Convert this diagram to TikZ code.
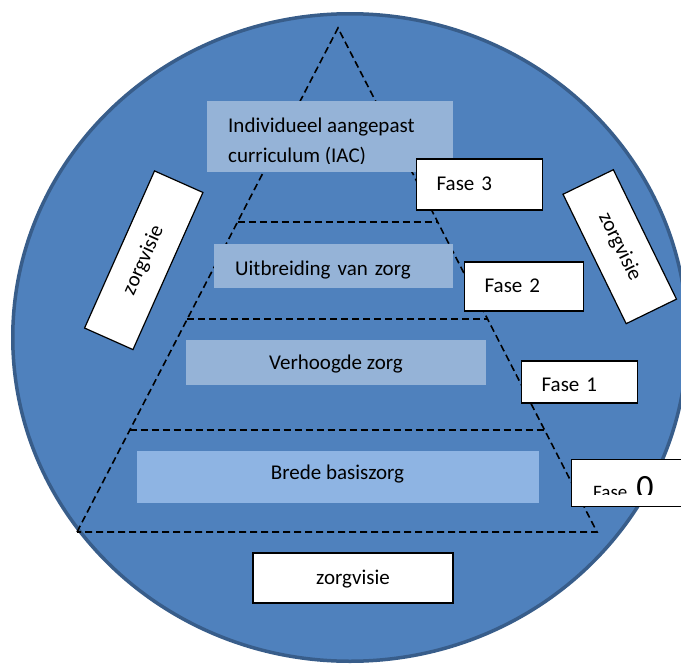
\documentclass[tikz,border=0pt]{standalone}
\usepackage{fontspec}
\setmainfont{Carlito}
\usetikzlibrary{calc}
\definecolor{discblue}{HTML}{4F81BD}
\definecolor{discline}{HTML}{385D8A}
\definecolor{layerblue}{HTML}{95B3D7}
\definecolor{baseblue}{HTML}{8EB4E3}

\begin{document}
\begin{tikzpicture}[
  x=1pt, y=-1pt,
  font=\fontsize{21}{25}\selectfont,
  layer/.style={rectangle, fill=layerblue, inner sep=0pt, align=left},
  fase/.style={rectangle, draw, fill=white, line width=1.2pt, inner sep=0pt, inner xsep=20pt, align=left, anchor=base west},
  visie/.style={rectangle, draw, fill=white, line width=1.2pt, inner sep=0pt, align=center},
  niveau/.style={line width=1.6pt, dash pattern=on 7pt off 4pt}
]
\useasboundingbox (0,0) rectangle (681,665);

\fill[discblue, draw=discline, line width=3.5pt] (350,337.5) ellipse [x radius=337.25, y radius=323.75];

\coordinate (top) at (338,28);
\coordinate (bl) at (77,532);
\coordinate (br) at (597,532);
\draw[niveau] (bl) -- (top) -- (br) -- cycle;
\foreach \f in {0.385,0.577,0.798}
  \draw[niveau] ($(top)!\f!(bl)$) -- ($(top)!\f!(br)$);

\node[layer, anchor=north west, minimum width=246, minimum height=71] (iac) at (207,101) {};
\begin{scope}
  \clip (207,101) rectangle (453,163);
  \node[anchor=north west, inner sep=0pt, align=left, font=\fontsize{21}{30}\selectfont] (iactekst) at (228,118) {Individueel aangepast\\curriculum (IAC)};
\end{scope}
\node[layer, anchor=base west, inner xsep=21pt, text width=197pt, text height=31pt, text depth=13pt] (uitbreiding) at (214,275) {Uitbreiding van zorg};
\node[layer, anchor=base, minimum width=300, text height=29.5pt, text depth=15.5pt] (verhoogd) at (336,369.5) {Verhoogde zorg};
\node[layer, fill=baseblue, anchor=base, minimum width=402, text height=29pt, text depth=23.5pt] (breed) at (337.5,479.5) {Brede basiszorg};

\node[fase, text width=86pt, text height=31pt, text depth=20pt] (fase3) at (416,190) {Fase 3};
\node[fase, text width=79pt, text height=30pt, text depth=19pt] (fase2) at (464,292) {Fase 2};
\node[fase, text width=76pt, text height=30pt, text depth=12pt] (fase1) at (521,391) {Fase 1};
\node[fase, anchor=north west, minimum width=150, minimum height=47] (fase0) at (571,459) {};
\begin{scope}
  \clip (571,459) rectangle (700,494);
  \node[anchor=base west, inner sep=0pt] (fase0tekst) at (593,498.5) {\fontsize{19}{19}\selectfont Fase\hspace{9pt}\fontsize{34}{34}\selectfont 0};
\end{scope}

\node[visie, minimum width=172, minimum height=53, rotate=66] (visielinks) at (143.75,260.25) {zorgvisie};
\node[visie, minimum width=144, minimum height=56, rotate=-64] (visierechts) at (619.75,246.7) {zorgvisie};
\node[visie, anchor=base, minimum width=200, text height=31.5pt, text depth=18.5pt] (visieonder) at (353,584.5) {zorgvisie};
\end{tikzpicture}
\end{document}
